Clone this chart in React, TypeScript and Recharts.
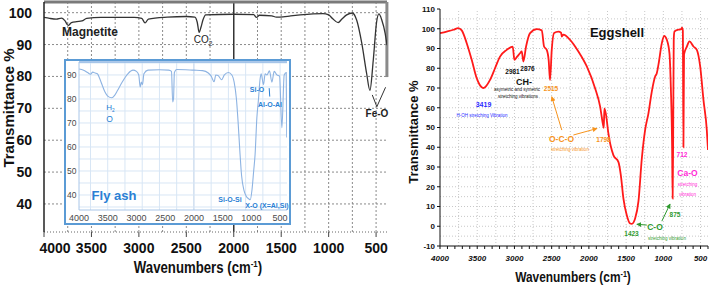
import React from "react";
import { LineChart, Line, XAxis, YAxis, ReferenceLine } from "recharts";

// Magnetite (left panel, black trace)
const magnetiteWave = [
  4000, 3940, 3870, 3815, 3780, 3745, 3710, 3655, 3600, 3550, 3400, 3050, 2970, 2935, 2900, 2700, 2500, 2410,
  2385, 2365, 2345, 2325, 2295, 2000, 1790, 1760, 1730, 1600, 1550, 1480, 1400, 1300, 1060, 1000, 960, 900, 860,
  810, 750, 705, 650, 600, 565, 530, 495, 470, 440, 405, 385,
];
const magnetiteT = [
  98.5, 98.2, 98.0, 98.3, 97.5, 96.0, 96.9, 97.2, 97.4, 98.2, 98.5, 98.5, 98.2, 96.8, 98.0, 98.6, 98.8, 98.6,
  97.0, 93.8, 95.5, 97.7, 99.3, 99.5, 99.4, 98.5, 99.2, 99.0, 98.6, 98.7, 99.0, 99.3, 99.7, 99.3, 98.2, 96.9, 98.0,
  99.3, 99.9, 97.7, 90.3, 81.0, 75.6, 85.0, 97.0, 99.6, 97.7, 93.6, 89.8,
];

// Fly ash (inset, light blue trace)
const flyAshWave = [
  4000, 3920, 3850, 3800, 3760, 3720, 3680, 3640, 3600, 3550, 3500, 3430, 3380, 3330, 3250, 3150, 3060, 3000,
  2960, 2935, 2915, 2895, 2870, 2800, 2600, 2440, 2390, 2370, 2355, 2340, 2300, 2000, 1850, 1750, 1700, 1648,
  1620, 1580, 1520, 1470, 1400, 1340, 1300, 1260, 1230, 1200, 1170, 1130, 1090, 1050, 1020, 990, 960, 935, 905,
  876, 850, 830, 789, 760, 730, 685, 643, 603, 556, 510, 469, 429, 394, 384,
];
const flyAshT = [
  92.5, 92.0, 91.0, 90.3, 91.2, 90.8, 90.5, 88.5, 86.0, 83.0, 81.2, 80.5, 81.5, 83.5, 87.0, 90.5, 92.0, 91.5,
  90.0, 85.0, 87.0, 86.0, 90.5, 92.0, 92.2, 92.0, 91.5, 78.8, 80.0, 91.0, 92.3, 92.0, 91.8, 90.8, 89.5, 87.2,
  90.0, 89.8, 88.0, 90.0, 91.0, 90.0, 87.0, 80.0, 70.0, 58.0, 48.0, 42.0, 39.5, 38.5, 38.0, 42.0, 50.0, 57.0, 72.0,
  80.0, 88.0, 90.5, 86.0, 90.5, 90.0, 91.7, 87.0, 91.5, 90.0, 89.5, 68.0, 90.0, 91.0, 64.0,
];

// Eggshell (right panel, red trace)
const eggWave = [
  4000, 3910, 3820, 3755, 3708, 3641, 3574, 3507, 3440, 3410, 3395, 3328, 3261, 3194, 3104, 3023, 3001, 2969,
  2925, 2902, 2880, 2844, 2790, 2700, 2633, 2602, 2566, 2540, 2522, 2499, 2468, 2410, 2373, 2364, 2343, 2253,
  2141, 2028, 1917, 1849, 1813, 1800, 1792, 1769, 1738, 1671, 1604, 1571, 1536, 1491, 1446, 1423, 1379, 1334,
  1289, 1245, 1200, 1155, 1110, 1088, 1066, 1020, 989, 953, 918, 899, 882, 875, 868, 860, 850, 800, 760, 748,
  738, 730, 722, 684, 649, 595, 550, 505, 461, 416, 400,
];
const eggT = [
  97.8, 98.6, 99.5, 100.3, 99.2, 92.7, 84.3, 75.0, 70.4, 70.0, 70.4, 74.1, 80.0, 85.9, 89.3, 91.0, 84.3, 85.6,
  87.6, 88.5, 83.4, 91.0, 97.8, 99.8, 99.2, 91.0, 89.3, 84.0, 74.0, 89.3, 97.8, 98.5, 98.0, 96.0, 97.0, 94.4,
  88.5, 80.9, 69.9, 60.6, 52.0, 49.8, 59.7, 56.3, 47.0, 36.0, 32.6, 25.9, 14.0, 5.6, 1.4, 1.2, 3.9, 12.7,
  34.3, 48.7, 57.2, 68.2, 75.8, 77.5, 81.7, 92.7, 96.4, 94.4, 87.7, 70.0, 40.0, 14.0, 45.0, 95.0, 98.6, 99.5, 99.8, 100.6,
  99.0, 40.0, 87.0, 91.0, 93.6, 91.0, 89.3, 80.9, 64.0, 48.7, 38.6,
];

const leftXTicks = [4000, 3500, 3000, 2500, 2000, 1500, 1000, 500];
const leftYTicks = [40, 50, 60, 70, 80, 90, 100];
const leftGridX = [3750, 3500, 3250, 3000, 2750, 2500, 2250, 1750, 1500, 1250, 1000, 750, 500];

const insetXTicks = [4000, 3500, 3000, 2500, 2000, 1500, 1000, 500];
const insetYTicks = [40, 50, 60, 70, 80, 90];
const insetGridX = [3800, 3500, 3200, 2900, 2600, 2300, 2000, 1700, 1400, 1100, 800, 500];
const insetGridY = [35, 40, 45, 50, 55, 60, 65, 70, 75, 80, 85, 90, 95];

const eggYTicks = [-10, 0, 10, 20, 30, 40, 50, 60, 70, 80, 90, 100, 110];
const eggXTicks: number[] = [];
for (let v = 4000; v >= 400; v -= 100) eggXTicks.push(v);
const eggGridX = [3750, 3500, 3250, 3000, 2750, 2500, 2250, 2000, 1750, 1500, 1250, 1000, 750, 500];
const eggGridY: number[] = [];
for (let v = -5; v <= 105; v += 5) eggGridY.push(v);

const zip = (w: number[], t: number[]) => w.map((x, i) => ({ w: x, t: t[i] }));
const magnetite = zip(magnetiteWave, magnetiteT);
const flyAsh = zip(flyAshWave, flyAshT);
const eggshell = zip(eggWave, eggT);

const ORANGE = "#f7941d";
const GREEN = "#2f9a2f";
const MAGENTA = "#ff2bd6";
const BLUE = "#2a2aff";
const INSET_BLUE = "#2a7fd4";

function Note({
  x,
  y,
  size,
  color = "#111",
  weight = "bold",
  sx = 1,
  rotate = 0,
  children,
}: {
  x: number;
  y: number;
  size: number;
  color?: string;
  weight?: string | number;
  sx?: number;
  rotate?: number;
  children: React.ReactNode;
}) {
  return (
    <div
      style={{
        position: "absolute",
        left: x,
        top: y,
        transform: `translate(-50%, -50%) rotate(${rotate}deg) scaleX(${sx})`,
        fontSize: size,
        color,
        fontWeight: weight as any,
        whiteSpace: "nowrap",
        lineHeight: 1,
      }}
    >
      {children}
    </div>
  );
}

const LeftXTick = (props: any) => {
  const { x, y, payload } = props;
  const shift = payload.value === 4000 ? 11 : 0;
  return (
    <text x={x + shift} y={y} dy={10} textAnchor="middle" fontSize={14} fontWeight="bold" fill="#111">
      {payload.value}
    </text>
  );
};

export default function App() {
  return (
    <div
      style={{
        position: "absolute",
        left: 0,
        top: 0,
        width: 709,
        height: 285,
        background: "#fff",
        overflow: "hidden",
        fontFamily: "'Liberation Sans', Arial, sans-serif",
      }}
    >
      <svg width={0} height={0} style={{ position: "absolute" }}>
        <defs>
          <marker id="arrOrange" viewBox="0 0 10 10" refX="9" refY="5" markerWidth="5" markerHeight="5" orient="auto">
            <path d="M0,0 L10,5 L0,10 z" fill={ORANGE} />
          </marker>
          <marker id="arrGreen" viewBox="0 0 10 10" refX="9" refY="5" markerWidth="5" markerHeight="5" orient="auto">
            <path d="M0,0 L10,5 L0,10 z" fill={GREEN} />
          </marker>
        </defs>
      </svg>

      {/* Left panel: magnetite */}
      <div style={{ position: "absolute", left: 0, top: 0 }}>
        <LineChart width={400} height={285} data={magnetite} margin={{ top: 2, right: 13, bottom: 0, left: 0 }}>
          <XAxis
            dataKey="w"
            type="number"
            domain={[385, 4000]}
            reversed
            allowDataOverflow
            ticks={leftXTicks}
            height={53}
            tickSize={5}
            tickMargin={6}
            tick={<LeftXTick />}
            axisLine={{ stroke: "#666", strokeDasharray: "1 2" }}
            tickLine={{ stroke: "#444" }}
          />
          <YAxis
            type="number"
            domain={[31.2, 103.35]}
            allowDataOverflow
            ticks={leftYTicks}
            width={44}
            tickLine={false}
            tickMargin={6}
            tick={{ fontSize: 14, fontWeight: "bold", fill: "#111" }}
            axisLine={{ stroke: "#222", strokeWidth: 1.5 }}
          />
          {leftGridX.map((v) => (
            <ReferenceLine key={"lx" + v} x={v} stroke="#8a8a8a" strokeDasharray="2 2" />
          ))}
          {leftYTicks.map((v) => (
            <ReferenceLine key={"ly" + v} y={v} stroke="#8a8a8a" strokeDasharray="2 2" />
          ))}
          <ReferenceLine x={2000} stroke="#333" strokeWidth={1.5} />
          <ReferenceLine y={103.35} stroke="#7a7a7a" strokeWidth={3} />
          <ReferenceLine
            segment={[
              { x: 386, y: 103.35 },
              { x: 386, y: 79.8 },
            ]}
            stroke="#8a8a8a"
            strokeWidth={3}
          />
          <ReferenceLine
            segment={[
              { x: 540, y: 74.2 },
              { x: 492, y: 70.5 },
            ]}
            stroke="#333"
          />
          <ReferenceLine
            segment={[
              { x: 400, y: 76.6 },
              { x: 492, y: 70.5 },
            ]}
            stroke="#333"
          />
          <Line
            dataKey="t"
            type="monotone"
            stroke="#333"
            strokeWidth={1.3}
            dot={false}
            activeDot={false}
            isAnimationActive={false}
          />
        </LineChart>
      </div>

      {/* Inset: fly ash */}
      <div
        style={{
          position: "absolute",
          left: 64,
          top: 59,
          width: 223,
          height: 162,
          border: "2px solid #5b9bd5",
          background: "#fff",
        }}
      >
        <LineChart width={223} height={162} data={flyAsh} margin={{ top: 1, right: 2, bottom: 0, left: 0 }}>
          <XAxis
            dataKey="w"
            type="number"
            domain={[380, 4000]}
            reversed
            allowDataOverflow
            ticks={insetXTicks}
            height={13}
            tickSize={0}
            tickMargin={5}
            tickLine={false}
            tick={{ fontSize: 9, fill: "#4a4a4a" }}
            axisLine={{ stroke: "#a9c6e8" }}
          />
          <YAxis
            type="number"
            domain={[33.75, 95.4]}
            allowDataOverflow
            ticks={insetYTicks}
            width={13}
            tickSize={0}
            tickMargin={2.5}
            tickLine={false}
            tick={{ fontSize: 8.5, fill: "#4a4a4a" }}
            axisLine={{ stroke: "#a9c6e8" }}
          />
          {insetGridX.map((v) => (
            <ReferenceLine key={"ix" + v} x={v} stroke={v === 2000 ? "#b9cfe8" : "#d8e6f5"} />
          ))}
          {insetGridY.map((v) => (
            <ReferenceLine key={"iy" + v} y={v} stroke="#d8e6f5" />
          ))}
          <ReferenceLine y={95.4} stroke="#8fb6e3" strokeWidth={1.5} />
          <ReferenceLine
            segment={[
              { x: 690, y: 84.5 },
              { x: 680, y: 81 },
            ]}
            stroke={INSET_BLUE}
          />
          <Line
            dataKey="t"
            type="monotone"
            stroke="#8db3e2"
            strokeWidth={1.1}
            dot={false}
            activeDot={false}
            isAnimationActive={false}
          />
        </LineChart>
      </div>

      {/* Right panel: eggshell */}
      <div style={{ position: "absolute", left: 380, top: 0 }}>
        <LineChart width={329} height={285} data={eggshell} margin={{ top: 9, right: 1, bottom: 0, left: 0 }}>
          <XAxis
            dataKey="w"
            type="number"
            domain={[400, 4000]}
            reversed
            allowDataOverflow
            ticks={eggXTicks}
            interval={0}
            height={39}
            tickSize={3}
            tickMargin={6}
            tickFormatter={(v: number) => (v % 500 === 0 ? String(v) : "")}
            tick={{ fontSize: 8, fontWeight: "bold", fontStyle: "italic", fill: "#111" }}
            axisLine={{ stroke: "#111" }}
            tickLine={{ stroke: "#111" }}
          />
          <XAxis
            xAxisId="top"
            orientation="top"
            dataKey="w"
            type="number"
            domain={[400, 4000]}
            reversed
            allowDataOverflow
            ticks={eggXTicks}
            interval={0}
            height={0}
            mirror
            tickSize={3}
            tick={false}
            axisLine={{ stroke: "#111" }}
            tickLine={{ stroke: "#111" }}
          />
          <YAxis
            type="number"
            domain={[-10, 110]}
            allowDataOverflow
            ticks={eggYTicks}
            interval={0}
            width={60}
            tickSize={3}
            tickMargin={2}
            tick={{ fontSize: 8, fontWeight: "bold", fill: "#111" }}
            axisLine={{ stroke: "#111" }}
            tickLine={{ stroke: "#111" }}
          />
          <YAxis
            yAxisId="right"
            orientation="right"
            type="number"
            domain={[-10, 110]}
            allowDataOverflow
            ticks={eggYTicks}
            interval={0}
            width={0}
            mirror
            tickSize={3}
            tick={false}
            axisLine={{ stroke: "#111" }}
            tickLine={{ stroke: "#111" }}
          />
          {eggGridX.map((v) => (
            <ReferenceLine key={"ex" + v} x={v} stroke="#c8c8c8" strokeDasharray="1 2" />
          ))}
          {eggGridY.map((v) => (
            <ReferenceLine key={"ey" + v} y={v} stroke="#c8c8c8" strokeDasharray="1 2" />
          ))}
          <ReferenceLine
            segment={[
              { x: 2364, y: 48.7 },
              { x: 2499, y: 65.6 },
            ]}
            stroke={ORANGE}
            markerEnd="url(#arrOrange)"
          />
          <ReferenceLine
            segment={[
              { x: 2208, y: 46.2 },
              { x: 1890, y: 49.5 },
            ]}
            stroke={ORANGE}
            markerEnd="url(#arrOrange)"
          />
          <ReferenceLine
            segment={[
              { x: 1222, y: 0.6 },
              { x: 1356, y: 1.0 },
            ]}
            stroke={GREEN}
            markerEnd="url(#arrGreen)"
          />
          <ReferenceLine
            segment={[
              { x: 1020, y: 2.6 },
              { x: 909, y: 11.3 },
            ]}
            stroke={GREEN}
            markerEnd="url(#arrGreen)"
          />
          <Line
            dataKey="t"
            type="monotone"
            stroke="#ff1a1a"
            strokeWidth={1.8}
            dot={false}
            activeDot={false}
            isAnimationActive={false}
          />
        </LineChart>
      </div>

      {/* Left panel text */}
      <Note x={8} y={108} size={15} rotate={-90}>
        Transmittance %
      </Note>
      <Note x={198} y={267} size={16.5} sx={0.8}>
        Wavenumbers (cm<sup style={{ fontSize: "0.6em" }}>-1</sup>)
      </Note>
      <Note x={90} y={32} size={12} color="#222">
        Magnetite
      </Note>
      <Note x={203} y={41} size={10} weight={500} color="#222">
        CO<sub style={{ fontSize: "0.65em" }}>2</sub>
      </Note>
      <Note x={377} y={114} size={10} color="#222">
        Fe-O
      </Note>
      <Note x={110.5} y={108.5} size={8} weight={500} color={INSET_BLUE}>
        H<sub style={{ fontSize: "0.6em" }}>2</sub>
      </Note>
      <Note x={109.5} y={119} size={8.5} weight={500} color={INSET_BLUE}>
        O
      </Note>
      <Note x={257} y={88.5} size={7} color={INSET_BLUE}>
        Si-O
      </Note>
      <Note x={270} y={103.5} size={7} color={INSET_BLUE}>
        Al-O-Al
      </Note>
      <Note x={114} y={195} size={13} weight={600} color={INSET_BLUE}>
        Fly ash
      </Note>
      <Note x={230} y={198.5} size={7} color={INSET_BLUE}>
        Si-O-Si
      </Note>
      <Note x={267} y={204.5} size={7} color={INSET_BLUE}>
        X-O (X=Al,Si)
      </Note>

      {/* Right panel text */}
      <Note x={413} y={132} size={13} rotate={-90}>
        Transmittance %
      </Note>
      <Note x={573} y={277} size={14} sx={0.85}>
        Wavenumbers (cm<sup style={{ fontSize: "0.6em" }}>-1</sup>)
      </Note>
      <Note x={617} y={32} size={13}>
        Eggshell
      </Note>
      <Note x={512.5} y={71.5} size={6.5}>
        2981
      </Note>
      <Note x={527.5} y={68.5} size={6.5}>
        2876
      </Note>
      <Note x={524} y={81.5} size={9}>
        CH-
      </Note>
      <Note x={517} y={89.5} size={4.5} weight={400}>
        asymetric and symetric
      </Note>
      <Note x={518} y={96.5} size={4.5} weight={400}>
        stretching vibrations
      </Note>
      <Note x={551} y={88.5} size={6.5} color={ORANGE}>
        2515
      </Note>
      <Note x={483.5} y={104} size={7} color={BLUE}>
        3419
      </Note>
      <Note x={482} y={115.5} size={4.5} weight={400} color={BLUE}>
        H-OH stretching Vibration
      </Note>
      <Note x={561.5} y={138.5} size={8.5} color={ORANGE}>
        O-C-O
      </Note>
      <Note x={603.5} y={139.5} size={6.5} color={ORANGE}>
        1798
      </Note>
      <Note x={570} y={150} size={4.5} weight={400} color={ORANGE}>
        stretching vibration
      </Note>
      <Note x={682} y={154.5} size={6.5} color={MAGENTA}>
        712
      </Note>
      <Note x={687.5} y={172.5} size={8.5} color={MAGENTA}>
        Ca-O
      </Note>
      <Note x={687.5} y={184.5} size={4.5} weight={400} color={MAGENTA}>
        stretching
      </Note>
      <Note x={687.5} y={195} size={4.5} weight={400} color={MAGENTA}>
        vibration
      </Note>
      <Note x={675} y={215} size={6.5} color={GREEN}>
        875
      </Note>
      <Note x={655} y={226.5} size={8.5} color={GREEN}>
        C-O
      </Note>
      <Note x={631.5} y={233.5} size={6.5} color={GREEN}>
        1423
      </Note>
      <Note x={667} y={239} size={4.5} weight={400} color={GREEN}>
        stretching vibration
      </Note>
    </div>
  );
}
